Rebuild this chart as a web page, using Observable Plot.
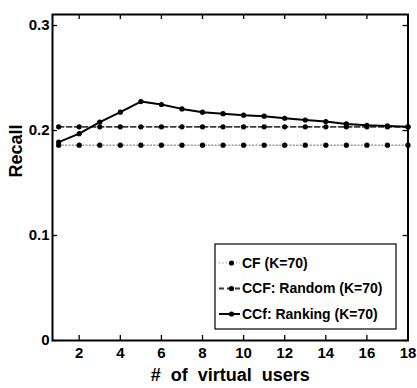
<!DOCTYPE html>
<html>
<head>
<meta charset="utf-8">
<script src="https://cdn.jsdelivr.net/npm/d3@7"></script>
<script src="https://cdn.jsdelivr.net/npm/@observablehq/plot@0.6"></script>
<style>
  html, body { margin: 0; padding: 0; background: #fff; }
  #chart { width: 417px; height: 388px; }
  svg text { white-space: pre; font-weight: bold; }
</style>
</head>
<body>
<div id="chart"></div>
<script>
// ---- data ----
const users = [1,2,3,4,5,6,7,8,9,10,11,12,13,14,15,16,17,18];
const cf = [0.186,0.186,0.186,0.186,0.186,0.186,0.186,0.186,0.186,0.186,0.186,0.186,0.186,0.186,0.186,0.186,0.186,0.186];
const ccfRandom = [0.2035,0.2035,0.2035,0.2035,0.2035,0.2035,0.2035,0.2035,0.2035,0.2035,0.2035,0.2035,0.2035,0.2035,0.2035,0.2035,0.2035,0.2035];
const ccfRanking = [0.189,0.197,0.208,0.2175,0.2276,0.2248,0.2206,0.2175,0.216,0.2146,0.2137,0.2117,0.2100,0.2086,0.2063,0.205,0.2044,0.2035];
const seriesNames = ["CF (K=70)", "CCF: Random (K=70)", "CCf: Ranking (K=70)"];
const xTicks = [2,4,6,8,10,12,14,16,18];
const xTickLabels = ["2","4","6","8","10","12","14","16","18"];
const yTicks = [0,0.1,0.2,0.3];
const yTickLabels = ["0","0.1","0.2","0.3"];
const xLabel = "#  of  virtual  users";
const yLabel = "Recall";

// ---- styles ----
const styles = [
  {stroke: "#8a8a8a", dash: "1.2,2.2", width: 1.2},
  {stroke: "#3a3a3a", dash: "5,3", width: 1.8},
  {stroke: "#000", dash: null, width: 2}
];
const seriesValues = [cf, ccfRandom, ccfRanking];
const rows = [];
seriesValues.forEach((vals, s) => users.forEach((u, i) => rows.push({series: seriesNames[s], s, x: u, y: vals[i]})));

const W = 417, H = 388;
const mt = 14, mb = 48, ml = 52, mr = 9.5;
const innerW = W - ml - mr, innerH = H - mt - mb;
const font = "'Liberation Sans', Arial, Helvetica, sans-serif";

const marks = [];
seriesNames.forEach((name, s) => {
  const d = rows.filter(r => r.s === s);
  marks.push(Plot.line(d, {x: "x", y: "y", stroke: styles[s].stroke, strokeWidth: styles[s].width, strokeDasharray: styles[s].dash}));
  marks.push(Plot.dot(d, {x: "x", y: "y", r: 2.6, fill: "#000", stroke: "none"}));
});

const plot = Plot.plot({
  width: W, height: H,
  marginTop: mt, marginBottom: mb, marginLeft: ml, marginRight: mr,
  style: {fontFamily: font, background: "#fff", color: "#000"},
  x: {domain: [0.7, 18]},
  y: {domain: [0, 0.3105]},
  marks: [
    ...marks,
    // inward ticks
    Plot.ruleX(xTicks, {x: d => d, insetTop: innerH - 5, stroke: "#000", strokeWidth: 1.3}),
    Plot.ruleX(xTicks, {x: d => d, insetBottom: innerH - 5, stroke: "#000", strokeWidth: 1.3}),
    Plot.ruleY(yTicks, {y: d => d, insetRight: innerW - 5, stroke: "#000", strokeWidth: 1.3}),
    Plot.ruleY(yTicks, {y: d => d, insetLeft: innerW - 5, stroke: "#000", strokeWidth: 1.3}),
    Plot.axisX({ticks: xTicks, tickSize: 0, tickPadding: 7, tickFormat: (d, i) => xTickLabels[i], label: null, fontSize: 15, fontWeight: "bold"}),
    Plot.axisY({ticks: yTicks, tickSize: 0, tickPadding: 3, tickFormat: (d, i) => yTickLabels[i], label: null, fontSize: 15, fontWeight: "bold"}),
    Plot.frame({stroke: "#000", strokeWidth: 2}),
    Plot.text([xLabel], {text: d => d, frameAnchor: "bottom", dy: 40, fontSize: 18, fontWeight: "bold"}),
    Plot.text([yLabel], {text: d => d, frameAnchor: "left", dx: -36, rotate: -90, fontSize: 18, fontWeight: "bold", letterSpacing: 1})
  ]
});
document.getElementById("chart").appendChild(plot);

// ---- legend (inside the svg, lower right of frame) ----
const svg = d3.select(plot);
const lx = 215, ly = 244, lw = 181, lh = 85;
const g = svg.append("g").attr("font-family", font).attr("text-anchor", "start");
g.append("rect").attr("x", lx).attr("y", ly).attr("width", lw).attr("height", lh)
  .attr("fill", "#fff").attr("stroke", "#000").attr("stroke-width", 1.2);
seriesNames.forEach((name, s) => {
  const cy = ly + 19 + s * 25.5;
  const ln = g.append("line").attr("x1", lx + 4).attr("x2", lx + 25).attr("y1", cy).attr("y2", cy)
    .attr("stroke", styles[s].stroke).attr("stroke-width", styles[s].width);
  if (styles[s].dash) ln.attr("stroke-dasharray", styles[s].dash);
  g.append("circle").attr("cx", lx + 16.5).attr("cy", cy).attr("r", 2.6).attr("fill", "#000");
  g.append("text").attr("x", lx + 27).attr("y", cy).attr("dy", "0.35em")
    .attr("text-anchor", "start")
    .attr("font-size", 14).attr("font-weight", "bold").text(name);
});
</script>
</body>
</html>
